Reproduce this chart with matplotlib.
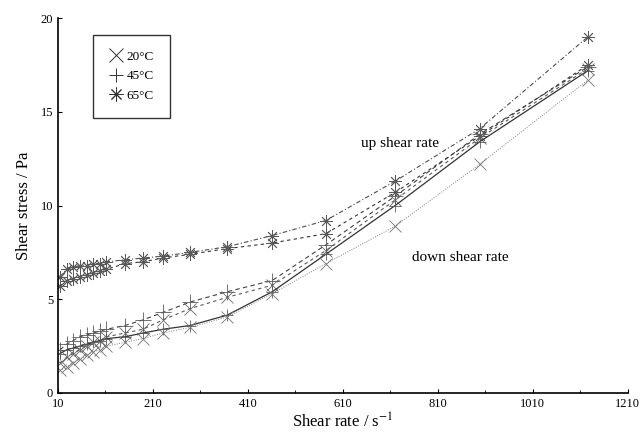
import matplotlib
matplotlib.use("Agg")
import matplotlib.pyplot as plt

plt.rcParams['font.family'] = ['Liberation Serif', 'DejaVu Serif']
plt.rcParams['mathtext.fontset'] = 'stix'

shear_rate = [14, 28, 42, 56, 70, 84, 98, 112, 151, 189, 231, 288, 366, 461, 574, 720, 898, 1126]

stress_65_up = [6.2, 6.6, 6.7, 6.8, 6.8, 6.9, 6.9, 7.0, 7.1, 7.2, 7.3, 7.5, 7.8, 8.4, 9.2, 11.3, 14.1, 19.0]
stress_65_down = [5.7, 6.0, 6.1, 6.2, 6.3, 6.4, 6.5, 6.6, 6.9, 7.0, 7.2, 7.4, 7.7, 8.0, 8.5, 10.7, 13.7, 17.5]
stress_45_up = [2.3, 2.6, 2.8, 3.0, 3.1, 3.2, 3.3, 3.4, 3.6, 3.9, 4.3, 4.85, 5.4, 6.0, 7.9, 10.5, 13.8, 17.4]
stress_20_up = [1.6, 1.9, 2.1, 2.3, 2.5, 2.7, 2.8, 3.0, 3.2, 3.4, 3.9, 4.5, 5.1, 5.75, 7.6, 10.3, 13.6, 17.3]
stress_45_down = [2.1, 2.3, 2.4, 2.5, 2.6, 2.7, 2.8, 2.9, 3.0, 3.2, 3.4, 3.6, 4.15, 5.4, 7.4, 10.0, 13.4, 17.2]
stress_20_down = [1.2, 1.4, 1.6, 1.8, 2.0, 2.2, 2.3, 2.5, 2.7, 2.9, 3.2, 3.5, 4.05, 5.3, 6.9, 8.9, 12.2, 16.7]

legend_labels = ['20°C', '45°C', '65°C']
x_ticks = [10, 210, 410, 610, 810, 1010, 1210]
y_ticks = [0, 5, 10, 15, 20]

fig = plt.figure(figsize=(6.41, 4.37), dpi=100)
ax = fig.add_axes([0.0905, 0.1007, 0.889, 0.858])

ast = (8, 2, 0)
ax.plot(shear_rate, stress_65_up, color='0.3', lw=0.8, ls=(0, (4, 2, 1, 2)),
        marker=ast, ms=9, mew=0.6, mec='0.35')
ax.plot(shear_rate, stress_65_down, color='0.2', lw=0.8, ls=(0, (3, 3)),
        marker=ast, ms=9, mew=0.6, mec='0.35')
ax.plot(shear_rate, stress_45_up, color='0.25', lw=0.8, ls=(0, (4, 3)),
        marker='+', ms=11, mew=0.6, mec='0.35')
ax.plot(shear_rate, stress_20_up, color='0.35', lw=0.8, ls=(0, (3, 3)),
        marker='x', ms=8, mew=0.6, mec='0.4')
ax.plot(shear_rate, stress_45_down, color='0.2', lw=0.9, ls='-',
        marker='+', ms=9, mew=0.6, mec='0.35')
ax.plot(shear_rate, stress_20_down, color='0.5', lw=0.7, ls=(0, (1, 1.5)),
        marker='x', ms=8, mew=0.6, mec='0.45')

# legend handles
h1, = ax.plot([], [], ls='none', marker='x', ms=10, mew=0.7, color='0.2')
h2, = ax.plot([], [], ls='none', marker='+', ms=10, mew=0.7, color='0.2')
h3, = ax.plot([], [], ls='none', marker=ast, ms=10, mew=0.7, color='0.2')
leg = ax.legend([h1, h2, h3], legend_labels, loc='upper left',
                bbox_to_anchor=(0.062, 0.955), frameon=True, fancybox=False,
                edgecolor='black', fontsize=9.5, handlelength=1.0,
                handletextpad=0.3, borderpad=1.2, labelspacing=0.55,
                borderaxespad=0.0)
leg.get_frame().set_linewidth(1.0)

ax.text(730, 13.3, 'up shear rate', fontsize=11, ha='center', va='center')
ax.text(858, 7.25, 'down shear rate', fontsize=11, ha='center', va='center')

ax.set_xlim(10, 1210)
ax.set_ylim(0, 20)
ax.set_xticks(x_ticks)
ax.set_xticks([110, 310, 510, 710, 910, 1110], minor=True)
ax.set_yticks(y_ticks)
ax.tick_params(direction='in', length=3, labelsize=9, width=0.8)
ax.tick_params(which='minor', direction='in', length=2, width=0.6)
for s in ['top', 'right']:
    ax.spines[s].set_visible(False)
ax.spines['left'].set_linewidth(1.2)
ax.spines['bottom'].set_linewidth(1.2)

ax.set_xlabel('Shear rate / s$^{-1}$', fontsize=12, labelpad=2)
ax.set_ylabel('Shear stress / Pa', fontsize=12, labelpad=6)

fig.savefig('out.png', dpi=100)
